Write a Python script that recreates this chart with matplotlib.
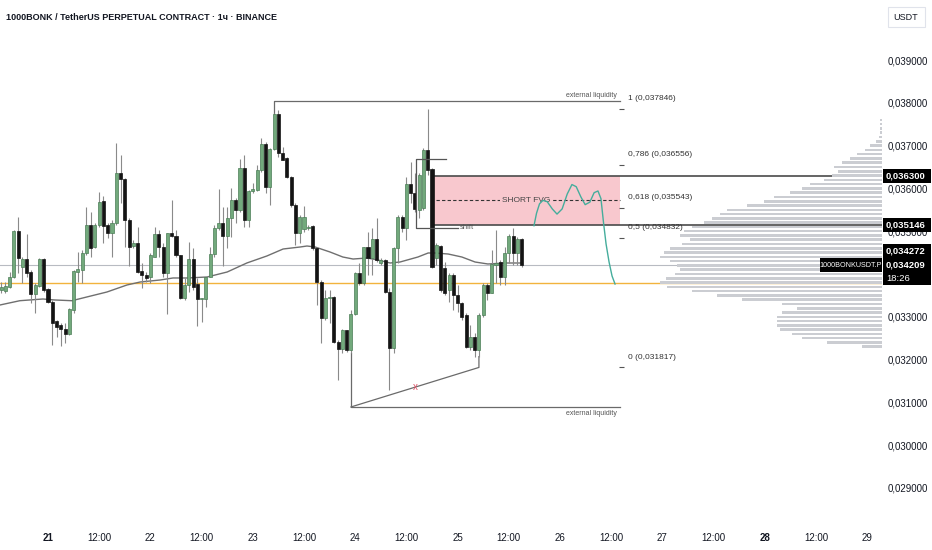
import numpy as np, matplotlib
matplotlib.use('Agg')
import matplotlib.pyplot as plt
from matplotlib.patches import Rectangle

plt.rcParams['font.family'] = ['Liberation Sans', 'DejaVu Sans']

# ── hourly candles, first one = 20th 13:00 (hour -11 from the 21st 00:00) ──
opens = [0.033626, 0.033603, 0.033704, 0.033938, 0.035012, 0.034171, 0.034343, 0.034054, 0.033533, 0.033720,
         0.034343, 0.033642, 0.033338, 0.032902, 0.032808, 0.032707, 0.032590, 0.033159, 0.034054, 0.034093,
         0.034499, 0.035145, 0.034623, 0.035145, 0.035706, 0.035145, 0.034950, 0.035184, 0.036352, 0.036212,
         0.035262, 0.034654, 0.034732, 0.034070, 0.033977, 0.033938, 0.034405, 0.034927, 0.034639, 0.034016,
         0.034950, 0.034888, 0.034444, 0.033431, 0.033743, 0.034343, 0.033767, 0.033408, 0.033408, 0.033938,
         0.034460, 0.035067, 0.035184, 0.034896, 0.035301, 0.035729, 0.035495, 0.036469, 0.035262, 0.035939,
         0.035963, 0.036430, 0.037037, 0.036040, 0.036913, 0.037738, 0.036819, 0.036702, 0.036259, 0.035612,
         0.034950, 0.035044, 0.035067, 0.035121, 0.034600, 0.033821, 0.032964, 0.033431, 0.033470, 0.032419,
         0.032240, 0.032692, 0.032224, 0.033066, 0.034031, 0.033798, 0.034623, 0.034366, 0.034810, 0.034249,
         0.034327, 0.033587, 0.032263, 0.034600, 0.035340, 0.035067, 0.036103, 0.035885, 0.035495, 0.035534,
         0.036897, 0.036453, 0.034366, 0.034654, 0.034132, 0.033626, 0.033977, 0.033509, 0.033315, 0.033042,
         0.032302, 0.032536, 0.032224, 0.033042, 0.033743, 0.033564, 0.034210, 0.034288, 0.033938, 0.034483,
         0.034896, 0.034483, 0.034810]
highs = [0.033821, 0.033821, 0.034054, 0.035028, 0.035340, 0.034405, 0.034935, 0.034093, 0.033782, 0.034382,
         0.034366, 0.033665, 0.033393, 0.032925, 0.032847, 0.032847, 0.033198, 0.034093, 0.034522, 0.034561,
         0.035573, 0.035456, 0.035184, 0.035924, 0.035822, 0.035184, 0.035262, 0.037068, 0.036780, 0.036235,
         0.035301, 0.034794, 0.035106, 0.034249, 0.034054, 0.034483, 0.035106, 0.035028, 0.034717, 0.034950,
         0.035729, 0.035028, 0.034444, 0.033899, 0.034755, 0.034600, 0.033899, 0.033431, 0.033938, 0.034639,
         0.035145, 0.035978, 0.035573, 0.035558, 0.036002, 0.035768, 0.036679, 0.036780, 0.035963, 0.036134,
         0.036547, 0.037170, 0.037092, 0.036936, 0.037754, 0.037832, 0.036975, 0.036741, 0.036290, 0.035651,
         0.035378, 0.035589, 0.035145, 0.035145, 0.034639, 0.033860, 0.033626, 0.033626, 0.033486, 0.032458,
         0.032707, 0.032692, 0.033159, 0.034054, 0.034249, 0.034639, 0.034989, 0.035067, 0.035301, 0.034366,
         0.034343, 0.033665, 0.034639, 0.035378, 0.035378, 0.036259, 0.036625, 0.036352, 0.036352, 0.036936,
         0.037846, 0.036469, 0.034717, 0.034678, 0.034288, 0.034016, 0.034016, 0.033743, 0.033354, 0.033081,
         0.032808, 0.032614, 0.033081, 0.033782, 0.033782, 0.034561, 0.035028, 0.034327, 0.034639, 0.034935,
         0.035067, 0.034872, 0.034833]
lows = [0.033548, 0.033548, 0.033665, 0.033899, 0.034016, 0.033782, 0.033938, 0.033315, 0.033097, 0.033704,
        0.033587, 0.033315, 0.032341, 0.032536, 0.032318, 0.032380, 0.032575, 0.033097, 0.033821, 0.033798,
        0.034444, 0.034405, 0.034600, 0.035106, 0.034717, 0.034833, 0.034405, 0.035145, 0.035651, 0.034639,
        0.034187, 0.034600, 0.034016, 0.033665, 0.033821, 0.033782, 0.034405, 0.034405, 0.033938, 0.033066,
        0.034872, 0.034405, 0.033408, 0.033393, 0.033587, 0.033626, 0.032785, 0.032886, 0.033237, 0.033922,
        0.034405, 0.035028, 0.034195, 0.034600, 0.034872, 0.035184, 0.035456, 0.035106, 0.035106, 0.035885,
        0.035947, 0.036391, 0.035885, 0.035612, 0.036897, 0.036741, 0.036664, 0.036235, 0.035573, 0.034678,
        0.034717, 0.034989, 0.035028, 0.034561, 0.033276, 0.032380, 0.032925, 0.032847, 0.032380, 0.031523,
        0.032146, 0.032185, 0.032146, 0.033042, 0.033743, 0.033743, 0.033977, 0.033977, 0.034288, 0.034210,
        0.033548, 0.031290, 0.032146, 0.034249, 0.034989, 0.034794, 0.035651, 0.035456, 0.035301, 0.035495,
        0.036313, 0.034132, 0.034210, 0.033587, 0.033509, 0.033354, 0.033159, 0.033120, 0.032925, 0.032263,
        0.032224, 0.032069, 0.032069, 0.033003, 0.033393, 0.033548, 0.033782, 0.033743, 0.033743, 0.034249,
        0.034210, 0.034210, 0.034171]
closes = [0.033704, 0.033720, 0.033938, 0.035012, 0.034366, 0.034343, 0.034031, 0.033533, 0.033743, 0.034351,
          0.033626, 0.033338, 0.032847, 0.032770, 0.032707, 0.032590, 0.033174, 0.034078, 0.034117, 0.034499,
          0.035145, 0.034600, 0.035145, 0.035690, 0.035121, 0.034950, 0.035184, 0.036352, 0.036212, 0.035262,
          0.034639, 0.034732, 0.034054, 0.033977, 0.033899, 0.034444, 0.034927, 0.034639, 0.034016, 0.034950,
          0.034888, 0.034444, 0.033431, 0.033743, 0.034343, 0.033704, 0.033408, 0.033431, 0.033922, 0.034460,
          0.035083, 0.035184, 0.034896, 0.035301, 0.035729, 0.035495, 0.036469, 0.035262, 0.035939, 0.035978,
          0.036430, 0.037037, 0.036040, 0.036913, 0.037738, 0.036819, 0.036664, 0.036259, 0.035612, 0.034950,
          0.035340, 0.035340, 0.035106, 0.034600, 0.033821, 0.032964, 0.033431, 0.033470, 0.032419, 0.032240,
          0.032692, 0.032224, 0.033066, 0.034031, 0.033798, 0.034623, 0.034366, 0.034810, 0.034327, 0.034327,
          0.033587, 0.032263, 0.034600, 0.035340, 0.035067, 0.036103, 0.035885, 0.035511, 0.036313, 0.036897,
          0.036430, 0.034171, 0.034678, 0.033626, 0.033548, 0.033977, 0.033509, 0.033315, 0.033003, 0.032302,
          0.032536, 0.032224, 0.033042, 0.033743, 0.033564, 0.034234, 0.034249, 0.033938, 0.034499, 0.034896,
          0.034483, 0.034810, 0.034209]
FIRST_HOUR = -11

# moving average
ma_hour  = [-11.25, -6.6, -1.2, 1.6, 5.6, 9.1, 13.8, 18.5, 21.6, 26.3, 29.3, 32.6, 37.3, 42.0, 46.6, 51.3,
            55.1, 59.1, 60.7, 62.6, 66.1, 69.1, 71.5, 74.8, 77.3, 80.2, 82.5, 86.7, 89.1, 90.7, 93.8, 97.0,
            100.1, 103.1, 107.1, 111.1]
ma_price = [0.033276, 0.033376, 0.033416, 0.033393, 0.033376, 0.033463, 0.033579, 0.033743, 0.033813,
            0.033860, 0.033907, 0.033907, 0.033930, 0.034047, 0.034257, 0.034421, 0.034584, 0.034631,
            0.034654, 0.034631, 0.034514, 0.034397, 0.034350, 0.034374, 0.034327, 0.034257, 0.034280,
            0.034397, 0.034491, 0.034491, 0.034467, 0.034397, 0.034280, 0.034234, 0.034257, 0.034257]

# visible range volume profile
vp_price  = [0.0376, 0.0375, 0.0374, 0.0373, 0.0372, 0.0371, 0.0370, 0.0369, 0.0368, 0.0367, 0.0366,
             0.0365, 0.0364, 0.0363, 0.0362, 0.0361, 0.0360, 0.0359, 0.0358, 0.0357, 0.0356, 0.0355,
             0.0354, 0.0353, 0.0352, 0.0351, 0.0350, 0.0349, 0.0348, 0.0347, 0.0346, 0.0345, 0.0344,
             0.0343, 0.0342, 0.0341, 0.0340, 0.0339, 0.0338, 0.0337, 0.0336, 0.0335, 0.0334, 0.0333,
             0.0332, 0.0331, 0.0330, 0.0329, 0.0328, 0.0327, 0.0326, 0.0325, 0.0324, 0.0323]
vp_volume = [2, 2, 2, 2, 3, 6, 12, 17, 25, 32, 40, 48, 44, 50, 58, 72, 80, 92, 108, 118, 135, 155,
             162, 170, 178, 190, 198, 202, 192, 200, 212, 218, 222, 212, 205, 202, 207, 216, 222, 215,
             190, 165, 140, 100, 85, 100, 105, 105, 105, 102, 90, 80, 55, 20]
poc_price  = 0.033783
last_price = 0.034209

# drawings
fvg_top, fvg_bot = 0.036300, 0.035146
fvg_start, draw_end = 90, 134
fib_levels = [1, 0.786, 0.618, 0.5, 0]
fib_prices = [0.037846, 0.036556, 0.035543, 0.034832, 0.031817]
ext_high, ext_low = 0.038042, 0.030893
proj_hour  = [113.9, 114.5, 115.2, 116.0, 117.0, 118.2, 119.3, 120.5, 121.7, 122.8, 123.8, 124.9, 125.9,
              127.0, 128.0, 128.9, 129.6, 130.2, 130.8, 131.5, 132.2, 132.9]
proj_price = [0.035128, 0.035420, 0.035640, 0.035720, 0.035690, 0.035520, 0.035400, 0.035520, 0.035870,
              0.036090, 0.036040, 0.035800, 0.035620, 0.035680, 0.035900, 0.035940, 0.035760, 0.035200,
              0.034700, 0.034280, 0.033953, 0.033766]

day_ticks  = list(range(0, 193, 12))
day_labels = ['21', '12:00', '22', '12:00', '23', '12:00', '24', '12:00', '25', '12:00',
              '26', '12:00', '27', '12:00', '28', '12:00', '29']
price_ticks = [0.029, 0.030, 0.031, 0.032, 0.033, 0.034, 0.035, 0.036, 0.037, 0.038, 0.039]

W, H = 932, 550
TXT = '#131722'
fig = plt.figure(figsize=(W/100, H/100), dpi=100)
ax = fig.add_axes([0, 28/H, 882/W, 522/H])
ax.set_xlim(-11.25, 195.47)
ax.set_ylim(0.0282056, 0.0404019)
for sp in ax.spines.values(): sp.set_visible(False)

# volume profile (anchored on the right edge)
axp = ax.twiny()
axp.set_xlim(882, 0)
axp.barh(vp_price, vp_volume, height=0.00006, color='#cbcdd2', zorder=1)
axp.set_xticks([])
for sp in axp.spines.values(): sp.set_visible(False)
axp.patch.set_visible(False)

# horizontal references
ax.axhline(last_price, color='#b8bbc2', lw=0.8, zorder=2)
ax.axhline(poc_price, color='#f2b33d', lw=1.0, zorder=2)

# FVG box
ax.add_patch(Rectangle((fvg_start, fvg_bot), draw_end - fvg_start, fvg_top - fvg_bot,
                       fc='#f8c8ce', ec='none', zorder=1))
ax.hlines([fvg_top, fvg_bot], fvg_start, 195.47, color='#4a4a4a', lw=1.2, zorder=3)
fvg_mid = (fvg_top + fvg_bot) / 2
ax.hlines(fvg_mid, fvg_start + 1, draw_end, color='#333333', lw=0.8, ls=(0, (3, 2)), zorder=3)
ax.text(112.0, fvg_mid, 'SHORT FVG', ha='center', va='center', fontsize=6, color='#444444', zorder=4,
        bbox=dict(boxstyle='square,pad=0.15', fc='#f8c8ce', ec='none'))

# MA
ax.plot(ma_hour, ma_price, color='#6f6f6f', lw=1.0, zorder=3)

# candles
hours = np.arange(len(opens)) + FIRST_HOUR
o, hi, lo, c = map(np.array, (opens, highs, lows, closes))
up = c >= o
ax.vlines(hours, lo, hi, color='#8a8a8a', lw=0.8, zorder=4)
ax.bar(hours[up], np.maximum(c[up] - o[up], 0.00002), bottom=o[up], width=0.72,
       color='#72a97c', edgecolor='#4b7d56', lw=0.5, zorder=5)
ax.bar(hours[~up], np.maximum(o[~up] - c[~up], 0.00002), bottom=c[~up], width=0.72,
       color='#141414', edgecolor='#141414', lw=0.5, zorder=5)

# liquidity drawings
LC = '#6a6a6a'
ax.plot([53, 53, draw_end], [highs[64], ext_high, ext_high], color=LC, lw=0.9, zorder=3)
ax.plot([71, 71, draw_end], [lows[82], ext_low, ext_low], color=LC, lw=0.9, zorder=3)
ax.plot([71, 101, 101], [ext_low, fib_prices[-1], lows[112]], color=LC, lw=0.9, zorder=3)
ax.text(86, 0.03136, 'x', color='#e0566a', fontsize=7, ha='center', va='center', zorder=6)
ax.text(133.4, 0.038182, 'external liquidity', ha='right', va='center', fontsize=5, color='#555555')
ax.text(133.4, 0.030729, 'external liquidity', ha='right', va='center', fontsize=5, color='#555555')

# BOS "shift" bracket
ax.plot([93.3, 86.3, 86.3, 96.1], [0.036687, 0.036687, 0.035075, 0.035075], color='#555555', lw=0.9, zorder=6)
ax.text(96.6, 0.035075, 'shift', fontsize=5.5, color='#555555', va='center', zorder=6)

# fibonacci labels
for lev, p in zip(fib_levels, fib_prices):
    ax.hlines(p, 133.8, 135.0, color='#555555', lw=0.8)
    ax.annotate(f"{lev} ({p:.6f})".replace('.', ','), (135.9, p), xytext=(0, 7.5),
                textcoords='offset points', fontsize=6, color='#333333', va='center')

# projection path
ax.plot(proj_hour, proj_price, color='#45ad9c', lw=1.0, zorder=6)

# axes ticks
ax.set_xticks(day_ticks)
ax.set_xticklabels(day_labels, fontsize=7, color=TXT)
for lbl in ax.get_xticklabels():
    if lbl.get_text() in ('21', '28'): lbl.set_fontweight('bold')
ax.tick_params(axis='x', length=0, pad=8)
ax.yaxis.tick_right()
ax.set_yticks(price_ticks)
ax.set_yticklabels([f"{p:.6f}".replace('.', ',') for p in price_ticks], fontsize=7, color=TXT)
ax.tick_params(axis='y', length=0, pad=4.0)

# price tags on the right scale
def tag(price, lines, dy=0, h=14, x0=883, w=48):
    yd = ax.transData.transform((0, price))[1] + dy
    fig.add_artist(Rectangle((x0/W, (yd - h/2)/H), w/W, h/H, transform=fig.transFigure,
                             fc='#000000', ec='none', zorder=5))
    n = len(lines)
    for k, t in enumerate(lines):
        yy = yd + (n - 1) * 6.5 - k * 13
        fig.text(886/W, yy/H, t, color='white', fontsize=6.8, fontweight='bold' if k == 0 else 'normal',
                 va='center', ha='left', zorder=6)

tag(fvg_top, ['0,036300'])
tag(fvg_bot, ['0,035146'])
tag(0.034272, ['0,034272'], dy=11.4)
tag(last_price, ['0,034209', '18:26'], dy=-6.5, h=27)
yd = ax.transData.transform((0, last_price))[1]
fig.add_artist(Rectangle((820/W, (yd - 7)/H), 62/W, 14/H, transform=fig.transFigure,
                         fc='#000000', ec='none', zorder=5))
fig.text(851/W, yd/H, '1000BONKUSDT.P', color='white', fontsize=5.2, ha='center', va='center', zorder=6)

# header
fig.text(6/W, 1 - 17/H, '1000BONK / TetherUS PERPETUAL CONTRACT · 1ч · BINANCE',
         fontsize=6.5, fontweight='bold', color=TXT, va='center')
fig.add_artist(Rectangle((888/W, 1 - 27/H), 37/W, 20/H, transform=fig.transFigure,
                         fc='white', ec='#e0e3eb', lw=0.8, zorder=5))
fig.text(906/W, 1 - 17/H, 'USDT', fontsize=6.5, color=TXT, ha='center', va='center', zorder=6)

fig.savefig('out.png', dpi=100, facecolor='white')
